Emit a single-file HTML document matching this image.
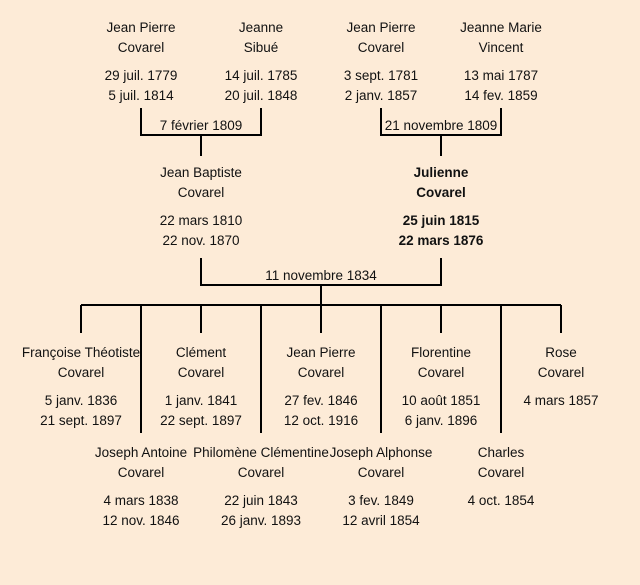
<!DOCTYPE html>
<html><head><meta charset="utf-8"><style>
body{margin:0;width:640px;height:585px;background:#fdebd7;position:relative;overflow:hidden;font-family:"Liberation Sans","DejaVu Sans",sans-serif;font-size:13.5px;color:#111}
.t{position:absolute;width:180px;margin-left:-90px;text-align:center;line-height:20px;white-space:nowrap;transform:translateY(1px)}
.b{font-weight:bold}
svg{position:absolute;left:0;top:0}
</style></head><body>
<svg width="640" height="585" stroke="#000" stroke-width="2" fill="none">
<path d="M141 108V135H261V108M201 135V156"/>
<path d="M381 108V135H501V108M441 135V156"/>
<path d="M201 258V285H441V258M321 285V305"/>
<path d="M81 305H561"/>
<path d="M81 305V333M201 305V333M321 305V333M441 305V333M561 305V333"/>
<path d="M141 305V433M261 305V433M381 305V433M501 305V433"/>
</svg>
<div class="t" style="left:141px;top:17px">Jean Pierre<br>Covarel</div>
<div class="t" style="left:141px;top:65px">29 juil. 1779<br>5 juil. 1814</div>
<div class="t" style="left:261px;top:17px">Jeanne<br>Sibué</div>
<div class="t" style="left:261px;top:65px">14 juil. 1785<br>20 juil. 1848</div>
<div class="t" style="left:381px;top:17px">Jean Pierre<br>Covarel</div>
<div class="t" style="left:381px;top:65px">3 sept. 1781<br>2 janv. 1857</div>
<div class="t" style="left:501px;top:17px">Jeanne Marie<br>Vincent</div>
<div class="t" style="left:501px;top:65px">13 mai 1787<br>14 fev. 1859</div>
<div class="t" style="left:201px;top:115px">7 février 1809</div>
<div class="t" style="left:441px;top:115px">21 novembre 1809</div>
<div class="t" style="left:201px;top:162px">Jean Baptiste<br>Covarel</div>
<div class="t" style="left:201px;top:210px">22 mars 1810<br>22 nov. 1870</div>
<div class="t b" style="left:441px;top:162px">Julienne<br>Covarel</div>
<div class="t b" style="left:441px;top:210px">25 juin 1815<br>22 mars 1876</div>
<div class="t" style="left:321px;top:265px">11 novembre 1834</div>
<div class="t" style="left:81px;top:342px">Françoise Théotiste<br>Covarel</div>
<div class="t" style="left:81px;top:390px">5 janv. 1836<br>21 sept. 1897</div>
<div class="t" style="left:201px;top:342px">Clément<br>Covarel</div>
<div class="t" style="left:201px;top:390px">1 janv. 1841<br>22 sept. 1897</div>
<div class="t" style="left:321px;top:342px">Jean Pierre<br>Covarel</div>
<div class="t" style="left:321px;top:390px">27 fev. 1846<br>12 oct. 1916</div>
<div class="t" style="left:441px;top:342px">Florentine<br>Covarel</div>
<div class="t" style="left:441px;top:390px">10 août 1851<br>6 janv. 1896</div>
<div class="t" style="left:561px;top:342px">Rose<br>Covarel</div>
<div class="t" style="left:561px;top:390px">4 mars 1857</div>
<div class="t" style="left:141px;top:442px">Joseph Antoine<br>Covarel</div>
<div class="t" style="left:141px;top:490px">4 mars 1838<br>12 nov. 1846</div>
<div class="t" style="left:261px;top:442px">Philomène Clémentine<br>Covarel</div>
<div class="t" style="left:261px;top:490px">22 juin 1843<br>26 janv. 1893</div>
<div class="t" style="left:381px;top:442px">Joseph Alphonse<br>Covarel</div>
<div class="t" style="left:381px;top:490px">3 fev. 1849<br>12 avril 1854</div>
<div class="t" style="left:501px;top:442px">Charles<br>Covarel</div>
<div class="t" style="left:501px;top:490px">4 oct. 1854</div>
</body></html>
